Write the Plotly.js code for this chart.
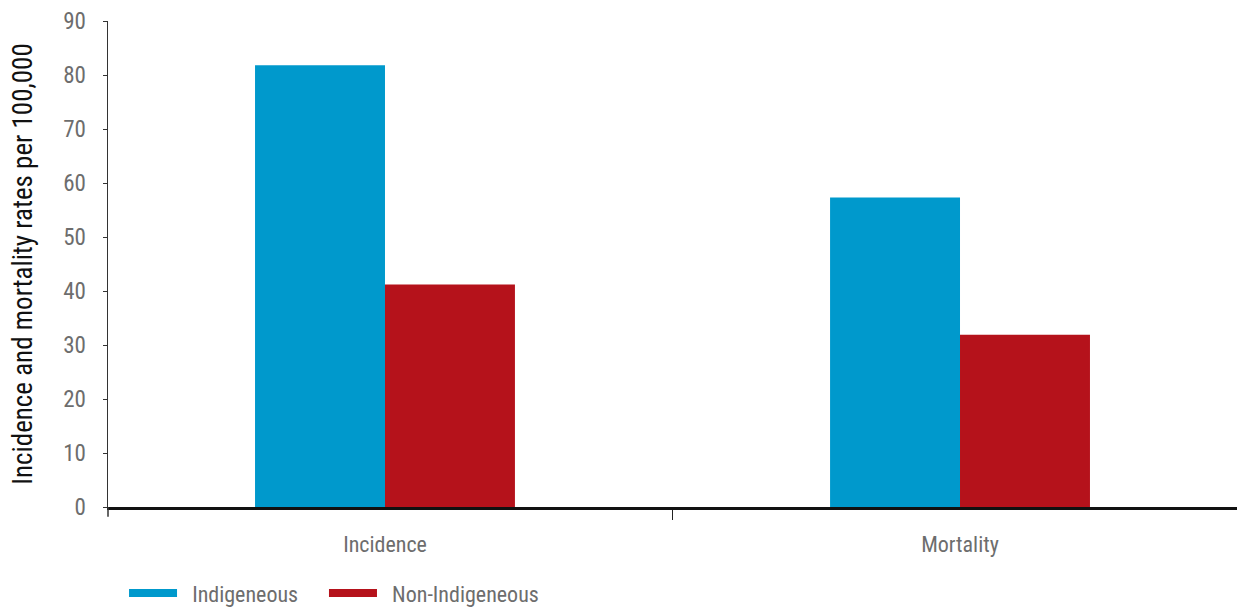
<!DOCTYPE html>
<html>
<head>
<meta charset="utf-8">
<script src="https://cdn.plot.ly/plotly-3.0.1.min.js"></script>
<style>html,body{margin:0;padding:0;background:#fff;overflow:hidden}</style>
</head>
<body>
<div id="chart" style="width:1237px;height:607px;"></div>
<script>
var categories = ["Incidence", "Mortality"];
var seriesNames = ["Indigeneous", "Non-Indigeneous"];
var indigenous = [81.8, 57.3];
var nonIndigenous = [41.2, 31.9];
var yTicks = [0, 10, 20, 30, 40, 50, 60, 70, 80, 90];
var colors = ["#0099CC", "#B5121B"];
var FONT = "Liberation Sans Narrow, Roboto Condensed, Roboto, sans-serif";

var traces = [
  {type: "bar", x: categories, y: indigenous, name: seriesNames[0],
   marker: {color: colors[0]}, showlegend: false, hoverinfo: "y"},
  {type: "bar", x: categories, y: nonIndigenous, name: seriesNames[1],
   marker: {color: colors[1]}, showlegend: false, hoverinfo: "y"},
  {type: "scatter", mode: "lines", x: [null], y: [null], name: "\u00a0\u00a0" + seriesNames[0],
   line: {color: colors[0], width: 8}, showlegend: true, legend: "legend"},
  {type: "scatter", mode: "lines", x: [null], y: [null], name: "\u00a0\u00a0" + seriesNames[1],
   line: {color: colors[1], width: 8}, showlegend: true, legend: "legend2"}
];

var legendCommon = {
  orientation: "h", xanchor: "left", y: -0.134, yanchor: "top",
  font: {family: FONT, size: 22, color: "#6d6d6d"},
  itemwidth: 48, bgcolor: "rgba(0,0,0,0)"
};

var layout = {
  width: 1237, height: 607,
  margin: {l: 108, r: 0, t: 21, b: 100, autoexpand: false},
  paper_bgcolor: "#fff", plot_bgcolor: "#fff",
  barmode: "group", bargap: 0.548, bargroupgap: 0,
  font: {family: FONT, color: "#6d6d6d", size: 20},
  xaxis: {
    type: "category", range: [-0.4817, 1.4817], automargin: false,
    showline: true, linecolor: "#111", linewidth: 3,
    ticks: "outside", tickson: "boundaries", ticklen: 10, tickwidth: 1.5, tickcolor: "#222",
    showgrid: false, zeroline: false,
    ticklabelstandoff: 16,
    tickfont: {family: FONT, size: 22, color: "#6d6d6d"}
  },
  yaxis: {
    range: [0, 90], tickvals: yTicks, automargin: false,
    showline: true, linecolor: "#333", linewidth: 1.5,
    ticks: "outside", ticklen: 4, tickcolor: "#333",
    showgrid: false, zeroline: false,
    tickfont: {family: FONT, size: 23, color: "#6d6d6d"},
    ticklabelstandoff: 12,
    title: {text: "Incidence and mortality rates per 100,000",
            font: {family: FONT, size: 27, color: "#111"}, standoff: 22}
  },
  showlegend: true,
  legend: Object.assign({}, legendCommon, {x: 0.0142}),
  legend2: Object.assign({}, legendCommon, {x: 0.1913}),
  shapes: [
    {type: "line", xref: "paper", yref: "paper", x0: 0, x1: 0, y0: 0, y1: -0.02,
     line: {color: "#333", width: 1.5}}
  ]
};

Plotly.newPlot("chart", traces, layout, {displayModeBar: false, staticPlot: true});
</script>
</body>
</html>
